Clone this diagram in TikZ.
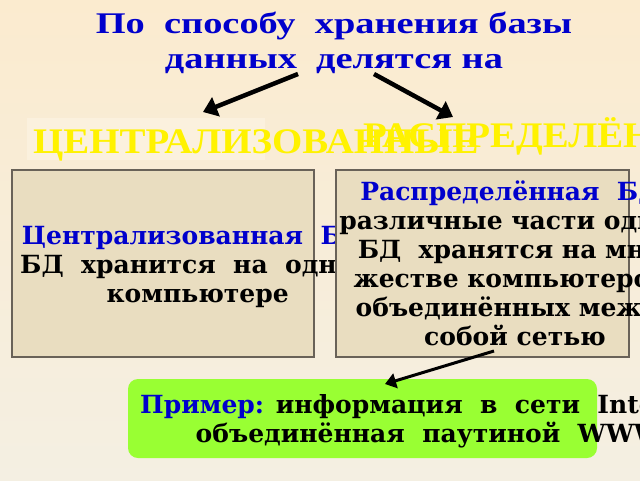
\documentclass[tikz,border=0pt]{standalone}
\usepackage{fontspec}
\setmainfont{DejaVu Serif}
\newfontfamily\headfont[FakeStretch=1.08]{Liberation Serif}
\newfontfamily\titlefont[FakeStretch=1.28]{Liberation Serif}
\usetikzlibrary{arrows.meta, positioning}

\definecolor{creamtop}{RGB}{251,235,207}
\definecolor{creambot}{RGB}{244,239,226}
\definecolor{hdrback}{RGB}{251,241,222}
\definecolor{parch}{RGB}{233,221,192}
\definecolor{frame}{RGB}{105,98,88}
\definecolor{deepblue}{RGB}{0,0,204}
\definecolor{lime}{RGB}{153,255,51}

\begin{document}
\begin{tikzpicture}[x=1pt, y=-1pt,
    title/.style={font=\titlefont\bfseries\fontsize{30}{35}\selectfont, text=deepblue, align=center, inner sep=0pt},
    hdr/.style={font=\headfont\bfseries\fontsize{36}{40}\selectfont, text=yellow, inner sep=0pt, anchor=base west},
    card/.style={draw=frame, line width=1.5pt, fill=parch},
    body/.style={font=\bfseries\fontsize{25}{29}\selectfont, align=center, inner sep=0pt},
    bigarrow/.style={line width=4.5pt, -{Triangle[length=14pt, width=20pt]}},
    thinarrow/.style={line width=3pt, -{Triangle[length=11pt, width=15pt]}}
]
    \clip (0,0) rectangle (640,480);
    \shade [top color=creamtop, bottom color=creambot] (0,0) rectangle (640,480);

    \node [title, anchor=base] (Title) at (334,68) {По~~способу~~хранения базы\\данных~~делятся на};

    \fill [hdrback] (27,118) rectangle (265,160);
    \node [hdr] (Central) at (33,153) {ЦЕНТРАЛИЗОВАННЫЕ};
    \node [hdr] (Distrib) at (363,147) {РАСПРЕДЕЛЁННЫЕ};

    \coordinate (fromL) at (298,74);
    \coordinate (toL) at (203,112);
    \coordinate (fromR) at (374,74);
    \coordinate (toR) at (453,117);
    \draw [bigarrow] (fromL) -- (toL);
    \draw [bigarrow] (fromR) -- (toR);

    \draw [card] (12,170) rectangle (314,357);
    \node [body, anchor=base west] (CentralText) at (20,302) {{\color{deepblue}Централизованная~~БД:}\\БД~~хранится~~на~~одном\\компьютере};

    \draw [card] (336,170) rectangle (629,357);
    \node [body, anchor=base] (DistribText) at (515,345) {{\color{deepblue}Распределённая~~БД:}\\различные части одной\\БД~~хранятся на мно-\\жестве компьютеров,\\объединённых между\\собой сетью};

    \fill [lime, rounded corners=10pt] (128,379) rectangle (597,458);
    \node [body, anchor=base west] (Example) at (140,442) {{\color{deepblue}Пример:} информация~~в~~сети~~Internet,\\объединённая~~паутиной~~WWW.};

    \coordinate (fromEx) at (494,351);
    \coordinate (toEx) at (385,384);
    \draw [thinarrow] (fromEx) -- (toEx);
\end{tikzpicture}
\end{document}
